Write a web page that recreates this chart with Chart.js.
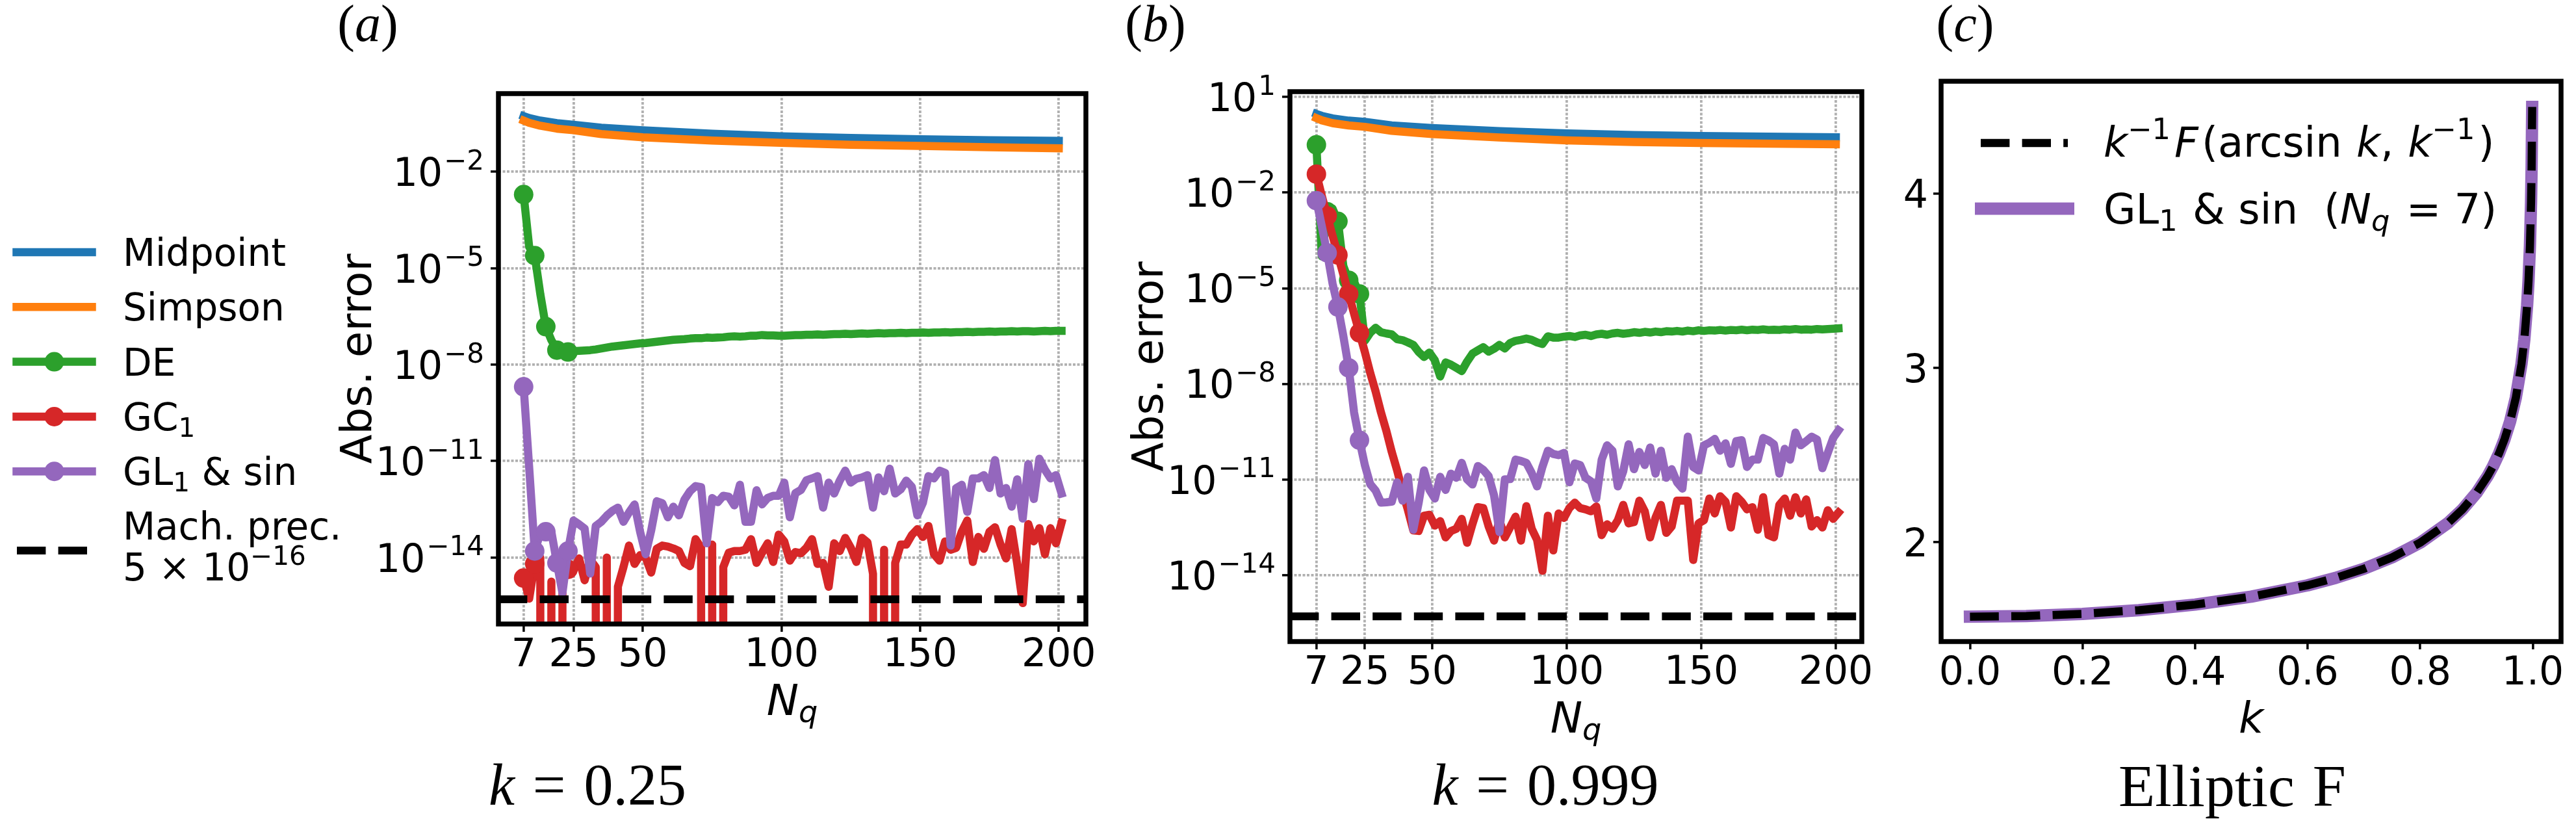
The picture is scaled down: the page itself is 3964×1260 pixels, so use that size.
<!DOCTYPE html>
<html>
<head>
<meta charset="utf-8">
<script src="https://cdn.jsdelivr.net/npm/chart.js@4.4.1/dist/chart.umd.min.js"></script>
<style>
  html, body { margin: 0; padding: 0; background: #fff; }
  #wrap { position: relative; width: 3964px; height: 1260px; }
  #wrap canvas { position: absolute; left: 0; top: 0; }
</style>
</head>
<body>
<div id="wrap">
  <canvas id="chartA" width="3964" height="1260"></canvas>
  <canvas id="chartB" width="3964" height="1260"></canvas>
  <canvas id="chartC" width="3964" height="1260"></canvas>
</div>
<script>
// ---- data -------------------------------------------------------------
// quadrature points (noisy methods), one value every 2 points
const nq = [7, 9, 11, 13, 15, 17, 19, 21, 23, 25,
  27, 29, 31, 33, 35, 37, 39, 41, 43, 45,
  47, 49, 51, 53, 55, 57, 59, 61, 63, 65,
  67, 69, 71, 73, 75, 77, 79, 81, 83, 85,
  87, 89, 91, 93, 95, 97, 99, 101, 103, 105,
  107, 109, 111, 113, 115, 117, 119, 121, 123, 125,
  127, 129, 131, 133, 135, 137, 139, 141, 143, 145,
  147, 149, 151, 153, 155, 157, 159, 161, 163, 165,
  167, 169, 171, 173, 175, 177, 179, 181, 183, 185,
  187, 189, 191, 193, 195, 197, 199, 201];
// smooth methods (midpoint / simpson)
const nqSmooth = [7, 9, 13, 19, 25, 35, 50, 75, 100, 125, 150, 175, 200];
// points that carry a marker
const markAt = [7, 11, 15, 19, 23];

// all error values below are log10(abs. error); Z = error exactly zero
const Z = -Infinity;

// (a) k = 0.25
const midA = [-0.27, -0.33, -0.41, -0.49, -0.54, -0.63, -0.71, -0.82, -0.90, -0.95, -0.99, -1.02, -1.04];
const simA = [-0.41, -0.48, -0.57, -0.66, -0.71, -0.83, -0.93, -1.03, -1.10, -1.16, -1.20, -1.24, -1.27];
const deA = [-2.71, -4.34, -4.61, -5.8, -6.82, -7.24, -7.55, -7.58, -7.61, -7.58,
  -7.57, -7.56, -7.55, -7.53, -7.5, -7.47, -7.44, -7.42, -7.4, -7.38,
  -7.36, -7.34, -7.33, -7.31, -7.29, -7.27, -7.25, -7.23, -7.22, -7.21,
  -7.19, -7.18, -7.18, -7.16, -7.17, -7.16, -7.15, -7.13, -7.12, -7.13,
  -7.12, -7.1, -7.1, -7.08, -7.09, -7.09, -7.1, -7.1, -7.09, -7.08,
  -7.08, -7.07, -7.07, -7.06, -7.07, -7.06, -7.05, -7.05, -7.04, -7.05,
  -7.04, -7.03, -7.04, -7.03, -7.02, -7.03, -7.02, -7.02, -7.01, -7.02,
  -7.01, -7.01, -7.0, -7.01, -7.0, -7.0, -6.99, -7.0, -6.99, -6.99,
  -6.98, -6.99, -6.98, -6.98, -6.97, -6.98, -6.97, -6.97, -6.96, -6.97,
  -6.96, -6.96, -6.97, -6.96, -6.95, -6.96, -6.95, -6.95];
const gcA = [-14.64, -15.28, -14.2, -14.0, Z, -14.75, Z, -14.4, -14.37, -14.4,
  -14.03, -14.71, -14.07, -14.3, Z, -14.0, Z, -14.91, -14.3, -13.63,
  -14.2, -13.93, -14.0, -14.47, -13.73, -13.63, -13.66, -13.72, -13.8, -14.17,
  -14.27, -13.43, -13.7, Z, -13.6, Z, -14.3, -13.85, -13.8, -13.8,
  -13.76, -13.43, -14.17, -13.85, -13.56, -14.14, -13.29, -13.5, -14.1, -13.83,
  -13.87, -13.7, -13.43, -14.2, -14.17, -14.91, -13.56, -13.8, -13.39, -13.7,
  -14.14, -13.39, -13.53, -14.51, Z, -13.76, Z, -14.17, -13.6, -13.6,
  -13.3, -13.12, -13.36, -13.02, -13.9, -14.1, -13.5, -13.76, -13.7, -13.2,
  -12.85, -14.14, -13.36, -13.73, -13.2, -13.06, -13.6, -14.03, -13.12, -14.2,
  -15.42, -12.96, -13.5, -13.09, -13.9, -13.09, -13.56, -12.92];
const glA = [-8.69, -11.2, -13.8, -13.25, -13.2, -13.2, -14.17, -15.1, -13.8, -12.85,
  -12.97, -13.1, -14.5, -13.02, -12.89, -12.7, -12.55, -12.45, -12.89, -12.6,
  -12.35, -13.2, -13.9, -13.16, -12.25, -12.31, -12.75, -12.42, -12.69, -12.2,
  -11.94, -11.78, -11.81, -13.56, -12.15, -12.28, -12.08, -12.11, -12.38, -11.74,
  -12.89, -12.89, -11.91, -12.35, -12.15, -12.08, -12.08, -11.67, -12.75, -12.0,
  -11.9, -11.6, -11.54, -11.47, -12.45, -11.67, -12.01, -11.61, -11.3, -11.67,
  -11.55, -11.51, -11.44, -12.45, -11.51, -11.94, -11.24, -12.01, -11.88, -11.61,
  -11.8, -12.69, -12.3, -11.47, -11.54, -11.3, -11.37, -13.63, -11.84, -11.74,
  -12.58, -11.54, -11.54, -11.44, -11.84, -10.97, -12.01, -11.84, -12.42, -11.57,
  -12.79, -11.1, -12.18, -10.93, -11.27, -11.54, -11.44, -12.01];

// (b) k = 0.999
const midB = [0.47, 0.41, 0.33, 0.26, 0.22, 0.11, 0.03, -0.07, -0.14, -0.19, -0.22, -0.245, -0.26];
const simB = [0.34, 0.27, 0.18, 0.11, 0.066, -0.06, -0.16, -0.27, -0.36, -0.41, -0.44, -0.46, -0.48];
const deB = [-0.5, -4.0, -2.6, -2.5, -2.9, -4.3, -4.75, -4.8, -5.18, -6.65,
  -6.4, -6.24, -6.38, -6.42, -6.45, -6.6, -6.63, -6.7, -6.78, -7.0,
  -7.16, -7.02, -7.26, -7.77, -7.33, -7.4, -7.5, -7.6, -7.3, -7.05,
  -6.95, -6.85, -6.99, -6.9, -6.78, -6.89, -6.72, -6.65, -6.62, -6.58,
  -6.62, -6.7, -6.75, -6.51, -6.55, -6.55, -6.52, -6.5, -6.53, -6.48,
  -6.46, -6.5, -6.45, -6.43, -6.46, -6.42, -6.4, -6.43, -6.41, -6.38,
  -6.4, -6.37, -6.39, -6.36, -6.38, -6.35, -6.36, -6.34, -6.36, -6.33,
  -6.35, -6.32, -6.34, -6.32, -6.33, -6.31, -6.33, -6.31, -6.32, -6.3,
  -6.32, -6.3, -6.31, -6.29, -6.31, -6.3, -6.31, -6.29, -6.3, -6.28,
  -6.3, -6.29, -6.3, -6.28, -6.29, -6.28, -6.27, -6.26];
const gcB = [-1.42, -2.1, -2.73, -3.35, -3.96, -4.57, -5.18, -5.8, -6.4, -7.0,
  -7.66, -8.24, -8.9, -9.48, -10.14, -10.72, -11.38, -11.96, -12.6, -12.62,
  -12.14, -12.11, -12.45, -12.31, -12.82, -12.62, -12.55, -12.24, -12.99, -12.4,
  -11.87, -11.9, -12.48, -12.92, -12.28, -12.82, -12.5, -12.17, -12.92, -11.84,
  -12.55, -12.9, -13.87, -12.14, -13.23, -12.07, -12.21, -11.9, -11.73, -11.9,
  -11.94, -12.0, -11.85, -12.75, -12.41, -12.55, -12.28, -11.8, -12.38, -12.34,
  -11.67, -12.0, -12.82, -12.2, -11.8, -12.68, -12.48, -11.67, -11.67, -11.67,
  -13.53, -12.38, -12.28, -11.6, -12.07, -11.53, -11.7, -12.51, -11.53, -11.7,
  -11.94, -11.87, -12.58, -11.56, -12.75, -12.82, -11.8, -11.6, -12.14, -11.56,
  -12.07, -11.63, -12.48, -12.28, -12.51, -11.97, -12.24, -12.04];
const glB = [-2.25, -3.05, -3.89, -4.85, -5.59, -6.5, -7.5, -8.9, -9.77, -10.55,
  -11.15, -11.35, -11.73, -11.72, -11.7, -11.09, -11.67, -10.92, -12.58, -11.73,
  -10.72, -11.33, -11.6, -10.92, -11.33, -10.82, -10.95, -10.48, -11.0, -11.16,
  -10.58, -10.7, -10.9, -11.5, -12.65, -11.0, -10.99, -10.38, -10.42, -10.48,
  -10.8, -11.22, -10.6, -10.1, -10.2, -10.24, -10.17, -11.09, -10.5, -10.55,
  -10.95, -11.06, -11.6, -10.38, -9.93, -10.1, -11.22, -10.75, -9.9, -10.68,
  -10.14, -10.55, -10.0, -10.82, -10.1, -10.95, -10.68, -11.09, -11.29, -9.66,
  -10.61, -10.72, -9.93, -9.85, -9.73, -10.1, -9.87, -10.51, -9.8, -9.77,
  -10.61, -10.38, -10.38, -9.7, -9.78, -9.9, -10.82, -10.04, -10.38, -9.53,
  -9.93, -9.8, -9.66, -9.75, -10.65, -10.17, -9.7, -9.46];

const machPrec = 5e-16;
const xTicksN = [7, 25, 50, 100, 150, 200];
const yTicksA = [-2, -5, -8, -11, -14];
const yTicksB = [1, -2, -5, -8, -11, -14];

// (c) elliptic F
const kVals = [0, 0.1, 0.2, 0.3, 0.4, 0.5, 0.6, 0.65, 0.7, 0.75, 0.8, 0.85, 0.875, 0.9,
  0.92, 0.93, 0.94, 0.95, 0.96, 0.97, 0.98, 0.985, 0.99, 0.9925, 0.995, 0.997, 0.998, 0.999];
const ellExact = [1.5708, 1.5747, 1.5869, 1.6080, 1.6400, 1.6858, 1.7508, 1.7934, 1.8457, 1.9110,
  1.9953, 2.1099, 2.1855, 2.2805, 2.3781, 2.4375, 2.5069, 2.5900, 2.6931, 2.8278,
  3.0209, 3.1595, 3.3566, 3.4973, 3.6969, 3.9496, 4.1507, 4.4956];
const ellGL7 = [1.5708, 1.5747, 1.5869, 1.6080, 1.6400, 1.6858, 1.7508, 1.7934, 1.8457, 1.9110,
  1.9953, 2.1099, 2.1855, 2.2805, 2.3781, 2.4375, 2.5069, 2.5900, 2.6931, 2.8278,
  3.0209, 3.1595, 3.3566, 3.4973, 3.6969, 3.9496, 4.1507, 4.4956];
const xTicksK = [0, 0.2, 0.4, 0.6, 0.8, 1.0];
const yTicksC = [2, 3, 4];

// ---- style ------------------------------------------------------------
const W = 3964, H = 1260;
const SANS = '"DejaVu Sans", sans-serif';
const SERIF = '"Liberation Serif", "DejaVu Serif", serif';
const COL = {blue: '#1f77b4', orange: '#ff7f0e', green: '#2ca02c', red: '#d62728', purple: '#9467bd'};
const LW = 12.5, MR = 15, DASH = [44.4, 19.2];
const TICK = 60, LEG = 58, AXT = 66;
const GRID = '#b0b0b0';
// matplotlib clips log(0) far below the axes; do the same
const FLOOR = 1e-300;

const toPts = (xs, logs) => xs.map((x, i) => ({x: x, y: Math.max(Math.pow(10, logs[i]), FLOOR)}));

function series(label, xs, logs, color, marked, order) {
  return {
    label: label, data: toPts(xs, logs), order: order,
    borderColor: color, backgroundColor: color, borderWidth: LW,
    borderCapStyle: 'square', borderJoinStyle: 'round', clip: 0,
    pointRadius: c => (marked && c.raw && markAt.includes(c.raw.x)) ? MR : 0,
    pointBackgroundColor: color, pointBorderWidth: 0, pointHoverRadius: 0
  };
}

// text with sub/superscripts: parts are strings or {t, it, sup, sub, gap, fam}
function rich(ctx, parts, x, y, size, align, family) {
  family = family || SANS;
  const segs = parts.map(p => {
    const s = typeof p === 'string' ? {t: p} : p;
    const fs = (s.sup || s.sub) ? size * 0.7 : size;
    const font = (s.it ? 'italic ' : '') + fs + 'px ' + (s.fam || family);
    ctx.font = font;
    return {t: s.t, font: font, w: ctx.measureText(s.t).width,
      dy: s.sup ? -0.42 * size : (s.sub ? 0.17 * size : 0), gap: s.gap || 0};
  });
  const total = segs.reduce((a, s) => a + s.w + s.gap, 0);
  let cx = align === 'right' ? x - total : (align === 'center' ? x - total / 2 : x);
  ctx.textAlign = 'left';
  ctx.textBaseline = 'alphabetic';
  segs.forEach(s => { cx += s.gap; ctx.font = s.font; ctx.fillText(s.t, cx, y + s.dy); cx += s.w; });
  return total;
}

const pow10Label = e => ['10', {t: (e < 0 ? '\u2212' : '') + Math.abs(e), sup: true, gap: 2}];

function axisScales(xr, yr, xTicks, yTicks, yType, withGrid) {
  const gridOpts = {
    display: true, drawOnChartArea: withGrid, color: GRID, lineWidth: 3.8,
    drawTicks: true, tickLength: 12, tickWidth: 3.5, tickColor: '#000'
  };
  return {
    x: {
      type: 'linear', min: xr[0], max: xr[1],
      afterBuildTicks: s => { s.ticks = xTicks.map(v => ({value: v})); },
      afterFit: s => { s.height = 0; },
      ticks: {display: false}, grid: gridOpts, border: {display: false, dash: [4, 2.5]}
    },
    y: {
      type: yType, min: yr[0], max: yr[1],
      afterBuildTicks: s => { s.ticks = yTicks.map(v => ({value: v})); },
      afterFit: s => { s.width = 0; },
      ticks: {display: false}, grid: gridOpts, border: {display: false, dash: [4, 2.5]}
    }
  };
}

function baseOptions(area, scales) {
  return {
    responsive: false, animation: false, devicePixelRatio: 1, events: [],
    layout: {padding: {left: area.l, top: area.t, right: W - area.r, bottom: H - area.b}},
    plugins: {legend: {display: false}, tooltip: {enabled: false}},
    scales: scales
  };
}

function decorPlugin(draw) {
  return {
    id: 'decor',
    afterDraw(chart) {
      const ctx = chart.ctx, a = chart.chartArea;
      ctx.save();
      ctx.fillStyle = '#000';
      ctx.strokeStyle = '#000';
      ctx.lineWidth = 7.5;
      ctx.lineJoin = 'miter';
      ctx.strokeRect(a.left, a.top, a.right - a.left, a.bottom - a.top);
      draw(chart, ctx, a, chart.scales.x, chart.scales.y);
      ctx.restore();
    }
  };
}

function errorPanel(ctx, a, xs, ys, yTicks, title, titleX, sub, subX) {
  xTicksN.forEach(v => rich(ctx, [String(v)], xs.getPixelForValue(v), a.bottom + 65, TICK, 'center'));
  yTicks.forEach(e => rich(ctx, pow10Label(e), a.left - 22, ys.getPixelForValue(Math.pow(10, e)) + 22, TICK, 'right'));
  rich(ctx, [{t: 'N', it: true}, {t: 'q', it: true, sub: true}], (a.left + a.right) / 2, a.bottom + 140, AXT, 'center');
  ctx.save();
  ctx.translate(a.left - 196, (a.top + a.bottom) / 2);
  ctx.rotate(-Math.PI / 2);
  rich(ctx, ['Abs. error'], 0, 0, AXT, 'center');
  ctx.restore();
  rich(ctx, ['(', {t: title, it: true}, ')'], titleX, 63, 80, 'center', SERIF);
  rich(ctx, [{t: 'k', it: true}, {t: '=', gap: 28}, {t: sub, gap: 28}], subX, 1238, 90, 'center', SERIF);
}

function errorDatasets(xr, mid, sim, de, gc, gl) {
  return [
    series('Midpoint', nqSmooth, mid, COL.blue, false, 10),
    series('Simpson', nqSmooth, sim, COL.orange, false, 9),
    series('DE', nq, de, COL.green, true, 8),
    series('GC1', nq, gc, COL.red, true, 7),
    series('GL1 & sin', nq, gl, COL.purple, true, 6),
    {label: 'Mach. prec.', data: [{x: xr[0], y: machPrec}, {x: xr[1], y: machPrec}], order: 5,
      borderColor: '#000', borderWidth: 12, borderDash: DASH, borderCapStyle: 'butt',
      pointRadius: 0, clip: 0}
  ];
}

// ---- (a) --------------------------------------------------------------
const areaA = {l: 767, r: 1671, t: 144, b: 960};
const xrA = [-2.09, 209.78];
const legendA = [
  {parts: ['Midpoint'], color: COL.blue, mark: false},
  {parts: ['Simpson'], color: COL.orange, mark: false},
  {parts: ['DE'], color: COL.green, mark: true},
  {parts: ['GC', {t: '1', sub: true}], color: COL.red, mark: true},
  {parts: ['GL', {t: '1', sub: true}, ' & sin'], color: COL.purple, mark: true}
];
new Chart(document.getElementById('chartA'), {
  type: 'line',
  data: {datasets: errorDatasets(xrA, midA, simA, deA, gcA, glA)},
  options: baseOptions(areaA, axisScales(xrA, [Math.pow(10, -16.07), Math.pow(10, 0.43)], xTicksN,
    yTicksA.map(e => Math.pow(10, e)), 'logarithmic', true)),
  plugins: [decorPlugin((chart, ctx, a, xs, ys) => {
    errorPanel(ctx, a, xs, ys, yTicksA, 'a', 566, '0.25', 904);
    // legend, left of the panel
    legendA.forEach((r, i) => {
      const y = 388 + i * 84.3;
      ctx.strokeStyle = r.color; ctx.lineWidth = LW; ctx.lineCap = 'square'; ctx.setLineDash([]);
      ctx.beginPath(); ctx.moveTo(25.5, y); ctx.lineTo(141.5, y); ctx.stroke();
      if (r.mark) { ctx.fillStyle = r.color; ctx.beginPath(); ctx.arc(83.5, y, MR, 0, 2 * Math.PI); ctx.fill(); }
      ctx.fillStyle = '#000';
      rich(ctx, r.parts, 189, y + 21, LEG, 'left');
    });
    ctx.strokeStyle = '#000'; ctx.lineWidth = 12; ctx.lineCap = 'butt'; ctx.setLineDash(DASH);
    ctx.beginPath(); ctx.moveTo(26, 847); ctx.lineTo(142, 847); ctx.stroke();
    ctx.setLineDash([]);
    rich(ctx, ['Mach. prec.'], 189, 830, LEG, 'left');
    rich(ctx, ['5 \u00d7 10', {t: '\u221216', sup: true}], 189, 893, LEG, 'left');
  })]
});

// ---- (b) --------------------------------------------------------------
const areaB = {l: 1985, r: 2865, t: 141, b: 987};
const xrB = [-2.83, 209.65];
new Chart(document.getElementById('chartB'), {
  type: 'line',
  data: {datasets: errorDatasets(xrB, midB, simB, deB, gcB, glB)},
  options: baseOptions(areaB, axisScales(xrB, [Math.pow(10, -16.09), Math.pow(10, 1.17)], xTicksN,
    yTicksB.map(e => Math.pow(10, e)), 'logarithmic', true)),
  plugins: [decorPlugin((chart, ctx, a, xs, ys) => {
    errorPanel(ctx, a, xs, ys, yTicksB, 'b', 1778, '0.999', 2378);
  })]
});

// ---- (c) --------------------------------------------------------------
const areaC = {l: 2987, r: 3941, t: 125, b: 987};
new Chart(document.getElementById('chartC'), {
  type: 'line',
  data: {datasets: [
    {label: 'k^-1 F(arcsin k, k^-1)', data: kVals.map((k, i) => ({x: k, y: ellExact[i]})), order: 1,
      borderColor: '#000', borderWidth: 12.5, borderDash: DASH, borderCapStyle: 'butt', pointRadius: 0, clip: 0},
    {label: 'GL1 & sin (Nq = 7)', data: kVals.map((k, i) => ({x: k, y: ellGL7[i]})), order: 2,
      borderColor: COL.purple, borderWidth: 19, borderCapStyle: 'square', borderJoinStyle: 'round', pointRadius: 0, clip: 0}
  ]},
  options: baseOptions(areaC, axisScales([-0.0513, 1.0503], [1.428, 4.643], xTicksK, yTicksC, 'linear', false)),
  plugins: [decorPlugin((chart, ctx, a, xs, ys) => {
    xTicksK.forEach(v => rich(ctx, [v.toFixed(1)], xs.getPixelForValue(v), a.bottom + 66, TICK, 'center'));
    yTicksC.forEach(v => rich(ctx, [String(v)], a.left - 20, ys.getPixelForValue(v) + 22, TICK, 'right'));
    rich(ctx, [{t: 'k', it: true}], (a.left + a.right) / 2, a.bottom + 140, AXT, 'center');
    rich(ctx, ['(', {t: 'c', it: true}, ')'], 3024, 63, 80, 'center', SERIF);
    rich(ctx, ['Elliptic', {t: 'F', gap: 28}], 3435, 1240, 92, 'center', SERIF);
    // legend
    ctx.strokeStyle = '#000'; ctx.lineWidth = 12.5; ctx.lineCap = 'butt'; ctx.setLineDash(DASH);
    ctx.beginPath(); ctx.moveTo(3048, 220); ctx.lineTo(3182, 220); ctx.stroke();
    ctx.setLineDash([]);
    ctx.strokeStyle = COL.purple; ctx.lineWidth = 19; ctx.lineCap = 'square';
    ctx.beginPath(); ctx.moveTo(3048.5, 321); ctx.lineTo(3182.5, 321); ctx.stroke();
    ctx.fillStyle = '#000';
    rich(ctx, [{t: 'k', it: true}, {t: '\u22121', sup: true}, {t: 'F', it: true, gap: 6}, {t: '(arcsin', gap: 5},
      {t: 'k', it: true, gap: 22}, ',', {t: 'k', it: true, gap: 22}, {t: '\u22121', sup: true}, {t: ')', gap: 5}],
      3237, 241, 64, 'left');
    rich(ctx, ['GL', {t: '1', sub: true}, {t: ' & sin', gap: 3}, {t: '(', gap: 40}, {t: 'N', it: true},
      {t: 'q', it: true, sub: true}, {t: ' = 7)', gap: 5}], 3237, 344, 64, 'left');
  })]
});
</script>
</body>
</html>
